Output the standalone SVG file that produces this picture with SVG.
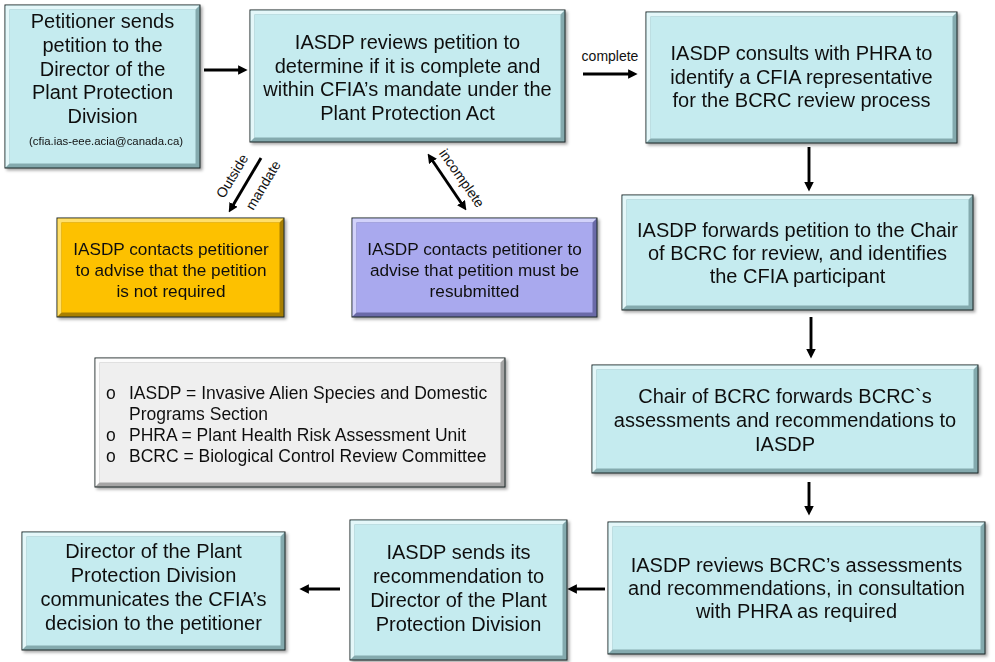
<svg xmlns="http://www.w3.org/2000/svg" width="995" height="662" viewBox="0 0 995 662">
<defs>
<style>
text{font-family:"Liberation Sans",Arial,sans-serif;fill:#111;}
.t20{font-size:20px;text-anchor:middle;}
.t17{font-size:17.2px;text-anchor:middle;}
.lg{font-size:17.5px;}
.lbl{font-size:14px;text-anchor:middle;}
.sm{font-size:11.4px;text-anchor:middle;}
.ol{stroke:#1a2626;stroke-width:1;}
.cy .dk{fill:#84aaae;}.cy .lt{fill:#e4f7f9;}.cy .mn{fill:#c5ebef;}
.ye .dk{fill:#a87f00;}.ye .lt{fill:#ffdf6a;}.ye .mn{fill:#fdc100;}
.pu .dk{fill:#6a6aa8;}.pu .lt{fill:#d2d2fa;}.pu .mn{fill:#a9a9ee;}
.gr .dk{fill:#a5a5a5;}.gr .lt{fill:#fcfcfc;}.gr .mn{fill:#efefef;}
.node{filter:url(#sh);}
.cn line{stroke:#000;stroke-width:2.9;}
</style>
<filter id="sh" x="-5%" y="-5%" width="112%" height="115%">
<feDropShadow dx="2" dy="2" stdDeviation="1.5" flood-color="#000" flood-opacity="0.35"/>
</filter>
<marker id="ah" viewBox="0 0 10 10" refX="2" refY="5" markerWidth="9.5" markerHeight="9.5" markerUnits="userSpaceOnUse" orient="auto-start-reverse">
<path d="M0,0 L10,5 L0,10 z" fill="#000"/>
</marker>
</defs>
<rect width="995" height="662" fill="#fff"/>

<g id="n1" class="node cy">
<rect class="dk ol" x="5" y="5" width="195" height="163"/>
<polygon class="lt" points="5.5,5.5 199.5,5.5 195.5,9.5 9.5,9.5 9.5,163.5 5.5,167.5"/>
<rect class="mn" x="9.5" y="9.5" width="186" height="154"/>
<text class="t20" x="102.5" y="28">Petitioner sends</text>
<text class="t20" x="102.5" y="52">petition to the</text>
<text class="t20" x="102.5" y="75.5">Director of the</text>
<text class="t20" x="102.5" y="99">Plant Protection</text>
<text class="t20" x="102.5" y="123">Division</text>
<text class="sm" x="106" y="145">(cfia.ias-eee.acia@canada.ca)</text>
</g>

<g id="n2" class="node cy">
<rect class="dk ol" x="250" y="10" width="315" height="132"/>
<polygon class="lt" points="250.5,10.5 564.5,10.5 560.5,14.5 254.5,14.5 254.5,137.5 250.5,141.5"/>
<rect class="mn" x="254.5" y="14.5" width="306" height="123"/>
<text class="t20" x="407.5" y="49">IASDP reviews petition to</text>
<text class="t20" x="407.5" y="72.5">determine if it is complete and</text>
<text class="t20" x="407.5" y="96">within CFIA’s mandate under the</text>
<text class="t20" x="407.5" y="119.5">Plant Protection Act</text>
</g>

<g id="n3" class="node cy">
<rect class="dk ol" x="646" y="12" width="311" height="131"/>
<polygon class="lt" points="646.5,12.5 956.5,12.5 952.5,16.5 650.5,16.5 650.5,138.5 646.5,142.5"/>
<rect class="mn" x="650.5" y="16.5" width="302" height="122"/>
<text class="t20" x="801.5" y="60">IASDP consults with PHRA to</text>
<text class="t20" x="801.5" y="83.5">identify a CFIA representative</text>
<text class="t20" x="801.5" y="107">for the BCRC review process</text>
</g>

<g id="n4" class="node cy">
<rect class="dk ol" x="622" y="195" width="351" height="115"/>
<polygon class="lt" points="622.5,195.5 972.5,195.5 968.5,199.5 626.5,199.5 626.5,305.5 622.5,309.5"/>
<rect class="mn" x="626.5" y="199.5" width="342" height="106"/>
<text class="t20" x="797.5" y="237">IASDP forwards petition to the Chair</text>
<text class="t20" x="797.5" y="260">of BCRC for review, and identifies</text>
<text class="t20" x="797.5" y="283">the CFIA participant</text>
</g>

<g id="n5" class="node cy">
<rect class="dk ol" x="592" y="365" width="386" height="108"/>
<polygon class="lt" points="592.5,365.5 977.5,365.5 973.5,369.5 596.5,369.5 596.5,468.5 592.5,472.5"/>
<rect class="mn" x="596.5" y="369.5" width="377" height="99"/>
<text class="t20" x="785" y="403">Chair of BCRC forwards BCRC`s</text>
<text class="t20" x="785" y="427">assessments and recommendations to</text>
<text class="t20" x="785" y="451">IASDP</text>
</g>

<g id="n6" class="node cy">
<rect class="dk ol" x="608" y="522" width="377" height="132"/>
<polygon class="lt" points="608.5,522.5 984.5,522.5 980.5,526.5 612.5,526.5 612.5,649.5 608.5,653.5"/>
<rect class="mn" x="612.5" y="526.5" width="368" height="123"/>
<text class="t20" x="796.5" y="572">IASDP reviews BCRC’s assessments</text>
<text class="t20" x="796.5" y="595">and recommendations, in consultation</text>
<text class="t20" x="796.5" y="618">with PHRA as required</text>
</g>

<g id="n7" class="node cy">
<rect class="dk ol" x="350" y="520" width="217" height="140"/>
<polygon class="lt" points="350.5,520.5 566.5,520.5 562.5,524.5 354.5,524.5 354.5,655.5 350.5,659.5"/>
<rect class="mn" x="354.5" y="524.5" width="208" height="131"/>
<text class="t20" x="458.5" y="559">IASDP sends its</text>
<text class="t20" x="458.5" y="583">recommendation to</text>
<text class="t20" x="458.5" y="607">Director of the Plant</text>
<text class="t20" x="458.5" y="631">Protection Division</text>
</g>

<g id="n8" class="node cy">
<rect class="dk ol" x="22" y="532" width="263" height="118"/>
<polygon class="lt" points="22.5,532.5 284.5,532.5 280.5,536.5 26.5,536.5 26.5,645.5 22.5,649.5"/>
<rect class="mn" x="26.5" y="536.5" width="254" height="109"/>
<text class="t20" x="153.5" y="558">Director of the Plant</text>
<text class="t20" x="153.5" y="582">Protection Division</text>
<text class="t20" x="153.5" y="606">communicates the CFIA’s</text>
<text class="t20" x="153.5" y="630">decision to the petitioner</text>
</g>

<g id="n9" class="node ye">
<rect class="dk ol" x="57" y="218" width="227" height="99"/>
<polygon class="lt" points="57.5,218.5 283.5,218.5 279.5,222.5 61.5,222.5 61.5,312.5 57.5,316.5"/>
<rect class="mn" x="61.5" y="222.5" width="218" height="90"/>
<text class="t17" x="171" y="255">IASDP contacts petitioner</text>
<text class="t17" x="171" y="276">to advise that the petition</text>
<text class="t17" x="171" y="297">is not required</text>
</g>

<g id="n10" class="node pu">
<rect class="dk ol" x="352" y="218" width="245" height="99"/>
<polygon class="lt" points="352.5,218.5 596.5,218.5 592.5,222.5 356.5,222.5 356.5,312.5 352.5,316.5"/>
<rect class="mn" x="356.5" y="222.5" width="236" height="90"/>
<text class="t17" x="474.5" y="255">IASDP contacts petitioner to</text>
<text class="t17" x="474.5" y="276">advise that petition must be</text>
<text class="t17" x="474.5" y="297">resubmitted</text>
</g>

<g id="legend" class="node gr">
<rect class="dk ol" x="95" y="358" width="410" height="129"/>
<polygon class="lt" points="95.5,358.5 504.5,358.5 500.5,362.5 99.5,362.5 99.5,482.5 95.5,486.5"/>
<rect class="mn" x="99.5" y="362.5" width="401" height="120"/>
<text class="lg" x="106" y="399">o</text>
<text class="lg" x="129" y="399">IASDP = Invasive Alien Species and Domestic</text>
<text class="lg" x="129" y="420">Programs Section</text>
<text class="lg" x="106" y="441">o</text>
<text class="lg" x="129" y="441">PHRA = Plant Health Risk Assessment Unit</text>
<text class="lg" x="106" y="462">o</text>
<text class="lg" x="129" y="462">BCRC = Biological Control Review Committee</text>
</g>

<g id="connectors" class="cn">
<line x1="204" y1="70" x2="240" y2="70" marker-end="url(#ah)"/>
<line x1="583" y1="74" x2="630" y2="74" marker-end="url(#ah)"/>
<line x1="809" y1="147" x2="809" y2="184" marker-end="url(#ah)"/>
<line x1="811" y1="317" x2="811" y2="351" marker-end="url(#ah)"/>
<line x1="809" y1="482" x2="809" y2="508" marker-end="url(#ah)"/>
<line x1="605" y1="589" x2="575" y2="589" marker-end="url(#ah)"/>
<line x1="340" y1="589" x2="307" y2="589" marker-end="url(#ah)"/>
<line x1="261" y1="158" x2="232.6" y2="206" marker-end="url(#ah)"/>
<line x1="431.9" y1="159.8" x2="462.1" y2="204.2" marker-start="url(#ah)" marker-end="url(#ah)"/>
<text class="lbl" x="610" y="61">complete</text>
<text class="lbl" transform="translate(232,176) rotate(-59)" x="0" y="5">Outside</text>
<text class="lbl" transform="translate(263,185) rotate(-59)" x="0" y="5">mandate</text>
<text class="lbl" transform="translate(462,178) rotate(55)" x="0" y="5">incomplete</text>
</g>
</svg>
